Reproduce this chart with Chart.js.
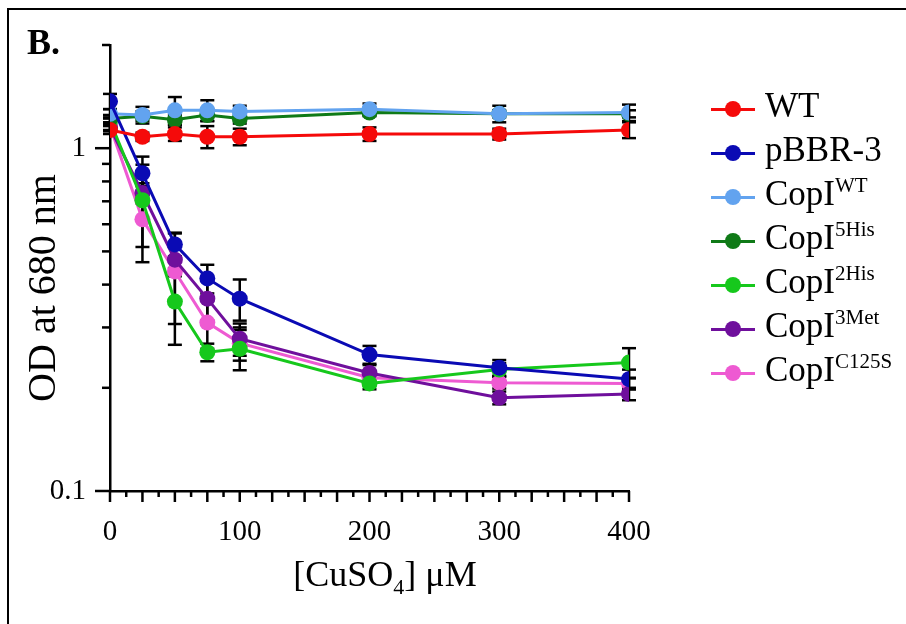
<!DOCTYPE html>
<html lang="en">
<head>
<meta charset="UTF-8">
<title>OD at 680 nm vs CuSO4</title>
<script src="https://cdn.jsdelivr.net/npm/chart.js@4.4.0/dist/chart.umd.min.js"></script>
<style>
html,body{margin:0;padding:0;background:#fff;overflow:hidden}
#wrap{position:relative;width:906px;height:624px;overflow:hidden;font-family:'Liberation Serif','Times New Roman',serif;color:#000}
#frame{position:absolute;left:7px;top:8px;width:960px;height:700px;border:2px solid #000;box-sizing:border-box}
#panel{position:absolute;left:27px;top:24px;font-size:36px;line-height:1;font-weight:bold}
#xTitle{position:absolute;left:185px;top:556px;width:400px;text-align:center;font-size:36px;line-height:1;white-space:nowrap}
#xTitle sub{font-size:22px;vertical-align:-8px;line-height:0}
#yTitle{position:absolute;left:-108px;top:268px;width:300px;height:40px;text-align:center;font-size:40px;line-height:1;white-space:nowrap;transform:rotate(-90deg)}
canvas{position:absolute;left:0;top:0}
.lg{position:absolute;left:711px;height:0}
.lg .ln{position:absolute;left:0;top:-1.5px;width:44px;height:3px}
.lg .dot{position:absolute;left:14px;top:-8px;width:16px;height:16px;border-radius:50%}
.lg .txt{position:absolute;left:54px;top:-21px;font-size:35px;line-height:1;white-space:nowrap}
.lg sup{font-size:21px;vertical-align:13px;line-height:0}
</style>
</head>
<body>
<div id="wrap">
  <div id="frame"></div>
  <canvas id="chart" width="906" height="624"></canvas>
  <div id="panel">B.</div>
  <div id="yTitle">OD at 680 nm</div>
  <div id="xTitle">[CuSO<sub>4</sub>] μM</div>
  <div id="legend"></div>
</div>

<script>
/* ---------- data ---------- */
const concs = [0, 25, 50, 75, 100, 200, 300, 400];

const wtOD     = [1.13, 1.08, 1.10, 1.08, 1.08, 1.10, 1.10, 1.13];
const wtSD     = [0.03, 0.03, 0.05, 0.08, 0.06, 0.05, 0.04, 0.06];
const pbbrOD   = [1.37, 0.845, 0.524, 0.417, 0.364, 0.25, 0.229, 0.212];
const pbbrSD   = [0.07, 0.10, 0.04, 0.04, 0.05, 0.015, 0.012, 0.014];
const copiWtOD = [1.26, 1.25, 1.29, 1.29, 1.28, 1.30, 1.26, 1.27];
const copiWtSD = [0.04, 0.07, 0.12, 0.09, 0.05, 0.05, 0.07, 0.07];
const his5OD   = [1.22, 1.24, 1.21, 1.25, 1.22, 1.27, 1.26, 1.26];
const his5SD   = [0.03, 0.04, 0.04, 0.05, 0.04, 0.03, 0.03, 0.03];
const his2OD   = [1.20, 0.705, 0.357, 0.254, 0.26, 0.206, 0.226, 0.237];
const his2SD   = [0.03, 0.19, 0.09, 0.015, 0.035, 0.008, 0.01, 0.024];
const met3OD   = [1.15, 0.74, 0.473, 0.364, 0.278, 0.221, 0.187, 0.192];
const met3SD   = [0.03, 0.05, 0.05, 0.05, 0.03, 0.012, 0.008, 0.008];
const c125OD   = [1.16, 0.62, 0.437, 0.31, 0.27, 0.214, 0.207, 0.206];
const c125SD   = [0.03, 0.155, 0.13, 0.05, 0.03, 0.01, 0.008, 0.008];

const seriesNames  = ['WT', 'pBBR-3', 'CopI', 'CopI', 'CopI', 'CopI', 'CopI'];
const seriesSupers = ['', '', 'WT', '5His', '2His', '3Met', 'C125S'];
const seriesColors = ['#f50a0a', '#0a0ab4', '#62a3ef', '#0f7a17', '#16c81c', '#6f0f9c', '#ee5ad2'];
const seriesOD = [wtOD, pbbrOD, copiWtOD, his5OD, his2OD, met3OD, c125OD];
const seriesSD = [wtSD, pbbrSD, copiWtSD, his5SD, his2SD, met3SD, c125SD];

const xTickLabels = [0, 100, 200, 300, 400];
const yTickLabels = [0.1, 1];
const yMinorTicks = [0.2, 0.3, 0.4, 0.5, 0.6, 0.7, 0.8, 0.9, 2];
const xTickStep = 12.5;

/* ---------- tick marks + error bars ---------- */
const AXW = 2.5;
function seg(ctx, x1, y1, x2, y2){ ctx.beginPath(); ctx.moveTo(x1,y1); ctx.lineTo(x2,y2); ctx.stroke(); }

const errorBars = {
  id: 'errorBars',
  beforeDatasetsDraw(chart){
    const {ctx, scales:{x, y}} = chart;
    ctx.save(); ctx.strokeStyle = '#000'; ctx.lineWidth = 2.5;
    seriesOD.forEach((vals, i) => {
      vals.forEach((v, j) => {
        const sd = seriesSD[i][j];
        const px = x.getPixelForValue(concs[j]);
        const top = y.getPixelForValue(v + sd), bot = y.getPixelForValue(Math.max(v - sd, 0.101));
        seg(ctx, px, top, px, bot);
        seg(ctx, px - 7, top, px + 7, top);
        seg(ctx, px - 7, bot, px + 7, bot);
      });
    });
    ctx.restore();
  }
};

const tickMarks = {
  id: 'tickMarks',
  afterDraw(chart){
    const {ctx, scales:{x, y}} = chart;
    ctx.save(); ctx.strokeStyle = '#000'; ctx.lineWidth = AXW;
    const ax = x.left, ay = y.bottom;
    yTickLabels.forEach(v => { const p = y.getPixelForValue(v); seg(ctx, ax - 15, p, ax, p); });
    yMinorTicks.forEach(v => { const p = y.getPixelForValue(v); seg(ctx, ax - 8, p, ax, p); });
    for (let v = 0; v <= 400; v += xTickStep){
      const p = x.getPixelForValue(v);
      seg(ctx, p, ay, p, ay + (v % 25 === 0 ? 11 : 6));
    }
    ctx.restore();
  }
};

/* ---------- chart ---------- */
const datasets = seriesOD.map((vals, i) => ({
  label: seriesNames[i] + seriesSupers[i],
  data: vals.map((v, j) => ({x: concs[j], y: v})),
  borderColor: seriesColors[i],
  backgroundColor: seriesColors[i],
  pointBackgroundColor: seriesColors[i],
  pointBorderWidth: 0,
  pointRadius: 8,
  borderWidth: 3,
  tension: 0
}));

const tickFont = {family: "'Liberation Serif','Times New Roman',serif", size: 29};

new Chart(document.getElementById('chart'), {
  type: 'line',
  data: {datasets},
  plugins: [errorBars, tickMarks],
  options: {
    responsive: false,
    animation: false,
    layout: {padding: {top: 45, right: 277, left: 0, bottom: 0}},
    plugins: {legend: {display: false}, tooltip: {enabled: false}},
    scales: {
      x: {
        type: 'linear', min: 0, max: 400,
        afterFit: s => { s.height = 133; },
        afterBuildTicks: s => { s.ticks = xTickLabels.map(v => ({value: v})); },
        ticks: {font: tickFont, color: '#000', padding: 24, maxRotation: 0},
        grid: {display: true, drawOnChartArea: false, drawTicks: false},
        border: {display: true, color: '#000', width: AXW}
      },
      y: {
        type: 'logarithmic', min: 0.1, max: 2,
        afterFit: s => { s.width = 110; },
        afterBuildTicks: s => { s.ticks = yTickLabels.map(v => ({value: v})); },
        ticks: {font: tickFont, color: '#000', padding: 24, callback: v => String(v)},
        grid: {display: true, drawOnChartArea: false, drawTicks: false},
        border: {display: true, color: '#000', width: AXW}
      }
    }
  }
});

/* ---------- legend (html, for the superscripts) ---------- */
const legend = document.getElementById('legend');
seriesNames.forEach((name, i) => {
  const row = document.createElement('div');
  row.className = 'lg';
  row.style.top = (109 + 44 * i) + 'px';
  const c = seriesColors[i];
  row.innerHTML = `<div class="ln" style="background:${c}"></div><div class="dot" style="background:${c}"></div>` +
    `<div class="txt">${name}${seriesSupers[i] ? '<sup>' + seriesSupers[i] + '</sup>' : ''}</div>`;
  legend.appendChild(row);
});
</script>
</body>
</html>
